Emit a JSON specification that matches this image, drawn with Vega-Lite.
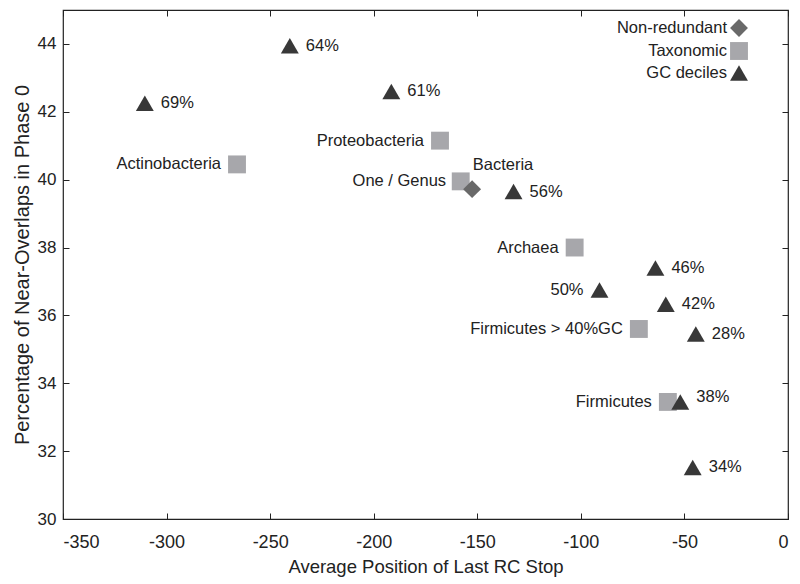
{
  "$schema": "https://vega.github.io/schema/vega-lite/v6.json",
  "width": 725,
  "height": 509,
  "autosize": {"type": "none"},
  "padding": {"left": 63, "top": 10, "right": 12, "bottom": 65},
  "config": {
    "font": "Liberation Sans",
    "view": {"stroke": "#222", "strokeWidth": 1.2},
    "axis": {"grid": false, "domain": false, "tickColor": "#222", "tickWidth": 1, "labelColor": "#222", "titleColor": "#222", "titleFontWeight": "normal"},
    "text": {"fontSize": 16.5, "font": "Liberation Sans", "color": "#222"}
  },
  "data": {"values": [
    {"x": -266, "y": 40.45, "type": "Taxonomic", "label": "Actinobacteria", "pos": "left"},
    {"x": -168, "y": 41.15, "type": "Taxonomic", "label": "Proteobacteria", "pos": "left"},
    {"x": -158, "y": 39.95, "type": "Taxonomic", "label": "Bacteria", "pos": "above"},
    {"x": -103, "y": 38.0, "type": "Taxonomic", "label": "Archaea", "pos": "left"},
    {"x": -72, "y": 35.6, "type": "Taxonomic", "label": "Firmicutes > 40%GC", "pos": "left"},
    {"x": -58, "y": 33.45, "type": "Taxonomic", "label": "Firmicutes", "pos": "left"},
    {"x": -152.5, "y": 39.72, "type": "Non-redundant", "label": "One / Genus", "pos": "upleft"},
    {"x": -310.5, "y": 42.25, "type": "GC deciles", "label": "69%", "pos": "right"},
    {"x": -240.5, "y": 43.95, "type": "GC deciles", "label": "64%", "pos": "right"},
    {"x": -191.5, "y": 42.6, "type": "GC deciles", "label": "61%", "pos": "right"},
    {"x": -132.5, "y": 39.65, "type": "GC deciles", "label": "56%", "pos": "right"},
    {"x": -64, "y": 37.4, "type": "GC deciles", "label": "46%", "pos": "right"},
    {"x": -91, "y": 36.75, "type": "GC deciles", "label": "50%", "pos": "left"},
    {"x": -59, "y": 36.33, "type": "GC deciles", "label": "42%", "pos": "right"},
    {"x": -44.5, "y": 35.45, "type": "GC deciles", "label": "28%", "pos": "right"},
    {"x": -52, "y": 33.45, "type": "GC deciles", "label": "38%", "pos": "upright"},
    {"x": -46, "y": 31.52, "type": "GC deciles", "label": "34%", "pos": "right"}
  ]},
  "resolve": {"scale": {"x": "independent", "y": "independent"}, "axis": {"x": "independent", "y": "independent"}},
  "layer": [
    {
      "encoding": {
        "x": {"field": "x", "type": "quantitative", "scale": {"domain": [-350, 0], "nice": false, "zero": false}, "axis": {"orient": "bottom", "values": [-350, -300, -250, -200, -150, -100, -50, 0], "tickSize": -6, "labelPadding": 20, "labelFontSize": 18, "labelExpr": "(datum.value < 0 ? '-' : '') + abs(datum.value)", "title": "Average Position of Last RC Stop", "titleFontSize": 18.5, "titlePadding": 6}},
        "y": {"field": "y", "type": "quantitative", "scale": {"domain": [30, 45], "nice": false, "zero": false}, "axis": {"orient": "left", "values": [30, 32, 34, 36, 38, 40, 42, 44], "tickSize": -6, "labelPadding": 13, "labelFontSize": 17, "title": "Percentage of Near-Overlaps in Phase 0", "titleFontSize": 20, "titlePadding": 5}}
      },
      "layer": [
        {
          "mark": {"type": "point", "filled": true, "opacity": 1, "size": 320},
          "encoding": {
            "color": {"field": "type", "type": "nominal", "scale": {"domain": ["Non-redundant", "Taxonomic", "GC deciles"], "range": ["#696969", "#a7a7ab", "#383838"]}, "legend": {"title": null, "orient": "none", "legendX": 666, "legendY": 8, "labelAlign": "right", "labelOffset": -22, "labelFontSize": 16.5, "labelColor": "#222", "symbolSize": 320, "rowPadding": -1, "symbolOpacity": 1}},
            "shape": {"field": "type", "type": "nominal", "scale": {"domain": ["Non-redundant", "Taxonomic", "GC deciles"], "range": ["diamond", "square", "triangle-up"]}}
          }
        },
        {
          "transform": [{"filter": "datum.pos == 'right'"}],
          "mark": {"type": "text", "align": "left", "baseline": "middle", "dx": 16},
          "encoding": {"text": {"field": "label"}}
        },
        {
          "transform": [{"filter": "datum.pos == 'upright'"}],
          "mark": {"type": "text", "align": "left", "baseline": "middle", "dx": 16, "dy": -5},
          "encoding": {"text": {"field": "label"}}
        },
        {
          "transform": [{"filter": "datum.pos == 'left'"}],
          "mark": {"type": "text", "align": "right", "baseline": "middle", "dx": -16},
          "encoding": {"text": {"field": "label"}}
        },
        {
          "transform": [{"filter": "datum.pos == 'upleft'"}],
          "mark": {"type": "text", "align": "right", "baseline": "middle", "dx": -26, "dy": -8},
          "encoding": {"text": {"field": "label"}}
        },
        {
          "transform": [{"filter": "datum.pos == 'above'"}],
          "mark": {"type": "text", "align": "left", "baseline": "middle", "dx": 12, "dy": -16},
          "encoding": {"text": {"field": "label"}}
        }
      ]
    },
    {
      "mark": {"type": "point", "opacity": 0},
      "encoding": {
        "x": {"field": "x", "type": "quantitative", "scale": {"domain": [-350, 0], "nice": false, "zero": false}, "axis": {"orient": "top", "values": [-350, -300, -250, -200, -150, -100, -50, 0], "tickSize": -6, "labels": false, "title": null}},
        "y": {"field": "y", "type": "quantitative", "scale": {"domain": [30, 45], "nice": false, "zero": false}, "axis": {"orient": "right", "values": [30, 32, 34, 36, 38, 40, 42, 44], "tickSize": -6, "labels": false, "title": null}}
      }
    }
  ]
}
